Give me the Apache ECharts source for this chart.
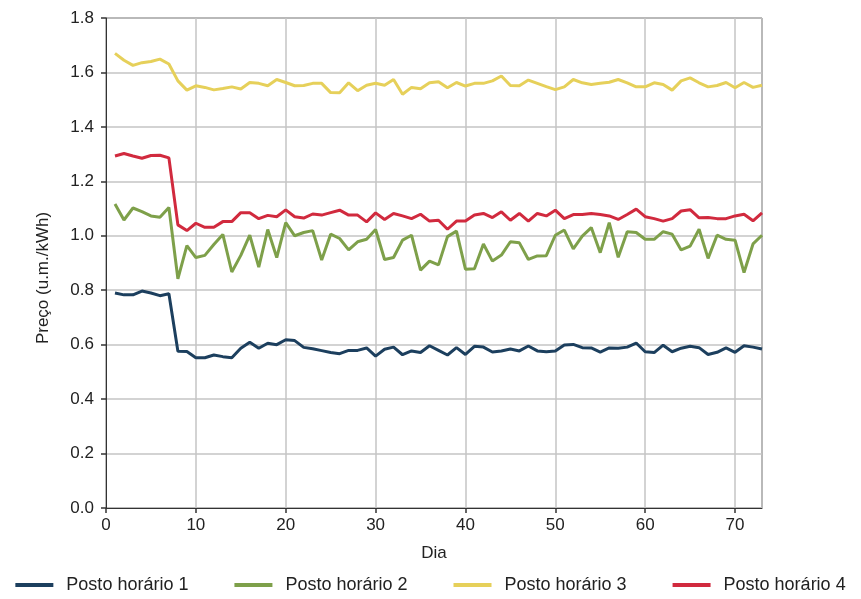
<!DOCTYPE html>
<html>
<head>
<meta charset="utf-8">
<script src="https://cdn.jsdelivr.net/npm/echarts@6/dist/echarts.min.js"></script>
<style>html,body{margin:0;padding:0;background:#fff;}#c{width:861px;height:599px;}</style>
</head>
<body>
<div id="c"></div>
<script>
var days = [];
for (var d = 1; d <= 73; d++) days.push(d);

var seriesNames = ['Posto horário 1', 'Posto horário 2', 'Posto horário 3', 'Posto horário 4'];

var posto1 = [0.79,0.783,0.783,0.797,0.79,0.78,0.787,0.576,0.575,0.552,0.552,0.562,0.556,0.552,0.587,0.609,0.587,0.605,0.6,0.618,
0.615,0.59,0.585,0.578,0.571,0.567,0.579,0.579,0.588,0.558,0.583,0.591,0.563,0.577,0.571,0.596,0.579,0.562,0.589,0.564,
0.594,0.591,0.573,0.577,0.584,0.577,0.595,0.577,0.574,0.577,0.599,0.601,0.589,0.588,0.573,0.588,0.587,0.591,0.606,0.574,
0.571,0.598,0.574,0.587,0.594,0.589,0.564,0.572,0.588,0.572,0.596,0.591,0.584];

var posto2 = [1.117,1.058,1.102,1.089,1.073,1.068,1.104,0.842,0.964,0.92,0.928,0.968,1.005,0.867,0.928,1.002,0.885,1.023,0.92,1.048,
1.0,1.012,1.019,0.911,1.006,0.99,0.948,0.978,0.987,1.023,0.913,0.92,0.984,1.002,0.874,0.907,0.893,0.997,1.017,0.877,
0.879,0.97,0.907,0.929,0.978,0.974,0.913,0.926,0.927,1.002,1.021,0.952,0.999,1.03,0.938,1.048,0.921,1.015,1.012,0.987,
0.987,1.015,1.006,0.948,0.962,1.024,0.917,1.002,0.987,0.984,0.865,0.97,1.002];

var posto3 = [1.67,1.645,1.626,1.636,1.64,1.649,1.631,1.569,1.535,1.551,1.545,1.536,1.541,1.547,1.539,1.563,1.56,1.551,1.574,1.563,
1.551,1.552,1.56,1.56,1.526,1.525,1.562,1.533,1.553,1.56,1.553,1.574,1.52,1.545,1.54,1.562,1.566,1.544,1.563,1.55,
1.56,1.56,1.569,1.587,1.552,1.551,1.572,1.56,1.548,1.537,1.547,1.574,1.562,1.556,1.56,1.564,1.574,1.562,1.547,1.547,
1.562,1.556,1.535,1.569,1.58,1.562,1.547,1.552,1.563,1.544,1.563,1.545,1.553];

var posto4 = [1.293,1.302,1.293,1.285,1.295,1.296,1.286,1.04,1.019,1.046,1.031,1.031,1.052,1.052,1.085,1.085,1.063,1.075,1.07,1.095,
1.07,1.065,1.08,1.076,1.085,1.094,1.076,1.076,1.051,1.084,1.06,1.082,1.073,1.063,1.079,1.054,1.057,1.024,1.054,1.054,
1.076,1.082,1.067,1.088,1.057,1.082,1.054,1.082,1.073,1.094,1.063,1.078,1.078,1.082,1.078,1.073,1.06,1.078,1.098,1.07,
1.063,1.054,1.063,1.091,1.096,1.066,1.067,1.063,1.063,1.073,1.079,1.055,1.084];

var colors = ['#1c3f5e', '#7ea04a', '#e6d05a', '#d12a3e'];
var allData = [posto1, posto2, posto3, posto4];

var font = 'Liberation Sans, Arial, sans-serif';

var chart = echarts.init(document.getElementById('c'), null, {renderer: 'canvas'});
chart.setOption({
  animation: false,
  color: colors,
  grid: {left: 106, right: 99, top: 18, bottom: 91, show: true, borderColor: '#333', borderWidth: 1, backgroundColor: 'transparent'},
  legend: {
    bottom: 0, left: 'center', itemWidth: 38, itemHeight: 4, itemGap: 46,
    icon: 'rect',
    textStyle: {fontFamily: font, fontSize: 18, color: '#222', padding: [0, 0, 0, 8]},
    data: seriesNames
  },
  xAxis: {
    type: 'value', min: 0, max: 73, interval: 10,
    name: 'Dia', nameLocation: 'middle', nameGap: 37,
    nameTextStyle: {fontFamily: font, fontSize: 17, color: '#222'},
    axisLine: {show: true, lineStyle: {color: '#333', width: 1}},
    axisTick: {show: true, length: 5, lineStyle: {color: '#333', width: 1.5}},
    axisLabel: {fontFamily: font, fontSize: 17, color: '#222', margin: 9, showMaxLabel: false},
    splitLine: {show: true, lineStyle: {color: '#c4c4c4', width: 1.5}}
  },
  yAxis: {
    type: 'value', min: 0, max: 1.8, interval: 0.2,
    name: 'Preço (u.m./kWh)', nameLocation: 'middle', nameGap: 54, nameRotate: 90,
    nameTextStyle: {fontFamily: font, fontSize: 17, color: '#222', padding: [0, 30, 0, 0]},
    axisLine: {show: true, lineStyle: {color: '#333', width: 1}},
    axisTick: {show: true, length: 5, lineStyle: {color: '#333', width: 1.5}},
    axisLabel: {fontFamily: font, fontSize: 17, color: '#222', margin: 12, formatter: function (v) { return v.toFixed(1); }},
    splitLine: {show: true, lineStyle: {color: '#c4c4c4', width: 1.5}}
  },
  series: seriesNames.map(function (n, i) {
    return {
      name: n, type: 'line', showSymbol: false, symbol: 'none',
      lineStyle: {width: 3, color: colors[i]},
      itemStyle: {color: colors[i]},
      data: days.map(function (d, j) { return [d, allData[i][j]]; })
    };
  })
});
</script>
</body>
</html>
